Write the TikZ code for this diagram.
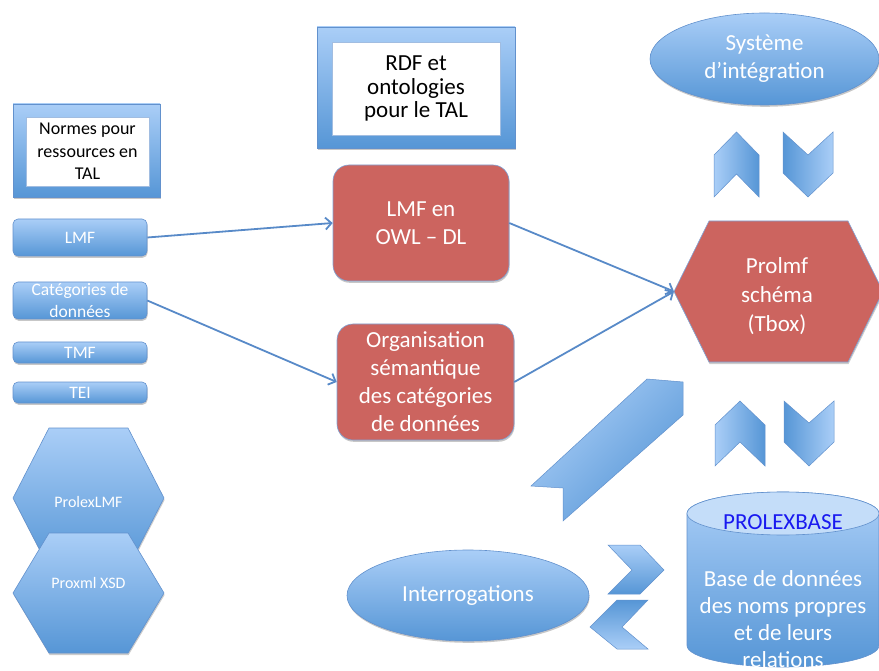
\documentclass[tikz,border=0pt]{standalone}
\usepackage{fontspec}
\setmainfont{Carlito}
\usetikzlibrary{arrows.meta,shadows,shapes.geometric}
\definecolor{bl}{RGB}{170,206,247}
\definecolor{bd}{RGB}{86,150,214}
\definecolor{bedge}{RGB}{98,145,205}
\definecolor{rd}{RGB}{204,100,95}
\definecolor{redge}{RGB}{125,163,215}
\definecolor{arr}{RGB}{88,138,200}
\definecolor{pbase}{RGB}{25,25,240}
\definecolor{ctop}{RGB}{196,221,249}
\tikzset{
  softshadow/.style={drop shadow={shadow xshift=0.6pt, shadow yshift=-1.8pt, opacity=0.22, fill=black}},
  bluebox/.style={draw=bedge, line width=0.6pt, top color=bl, bottom color=bd, rounded corners=5pt,
    text=white, align=center, inner sep=0pt, softshadow, font=\fontsize{17.5}{21.7}\selectfont},
  framebox/.style={draw=bedge, line width=0.6pt, top color=bl, bottom color=bd, inner sep=0pt, softshadow},
  innerbox/.style={draw=bedge!60, line width=0.5pt, fill=white, inner sep=0pt, align=center, text=black},
  redbox/.style={draw=redge, line width=0.6pt, fill=rd, rounded corners=16pt, text=white, align=center,
    inner sep=0pt, softshadow, font=\fontsize{23}{28}\selectfont},
  blueell/.style={ellipse, draw=bedge, line width=0.6pt, top color=bl, bottom color=bd, text=white,
    align=center, inner sep=0pt, softshadow, font=\fontsize{23}{28}\selectfont},
  bluefill/.style={draw=bedge, line width=0.6pt, top color=bl, bottom color=bd},
  chevL/.style={draw=bedge, line width=0.5pt, left color=bl, right color=bd},
  chevR/.style={draw=bedge, line width=0.5pt, left color=bd, right color=bl},
  chevT/.style={draw=bedge, line width=0.5pt, top color=bl, bottom color=bd},
  chevB/.style={draw=bedge, line width=0.5pt, top color=bd, bottom color=bl},
  wtext/.style={text=white, align=center, inner sep=0pt},
  conn/.style={draw=arr, line width=1.8pt, -{Straight Barb[length=6pt,width=12pt]}},
}
\begin{document}
\begin{tikzpicture}[x=1pt,y=-1pt]
\useasboundingbox (0,0) rectangle (879,671);

% left frame
\node[framebox, minimum width=147pt, minimum height=93pt] (normesF) at (86.5,150.5) {};
\node[innerbox, minimum width=123pt, minimum height=69pt, font=\fontsize{18}{22.7}\selectfont] (normes) at (87.5,151.5) {Normes pour\\ressources en\\TAL};

% small blue boxes
\node[bluebox, minimum width=134pt, minimum height=37pt] (lmf) at (80,237.5) {LMF};
\node[bluebox, minimum width=134pt, minimum height=37pt] (cat) at (80,300.5) {Catégories de\\données};
\node[bluebox, minimum width=134pt, minimum height=21pt] (tmf) at (80,352.5) {TMF};
\node[bluebox, minimum width=134pt, minimum height=21pt] (tei) at (80,392.5) {TEI};

% left hexagons
\fill[black, opacity=0.2] (49.6,430) -- (128.6,430) -- (164.6,500) -- (128.6,570) -- (49.6,570) -- (13.6,500) -- cycle;
\path[bluefill] (49,428) -- (128,428) -- (164,498) -- (128,568) -- (49,568) -- (13,498) -- cycle;
\node[wtext, font=\fontsize{16}{19}\selectfont] (prolexlmf) at (88.5,502) {ProlexLMF};
\fill[black, opacity=0.2] (49.6,535) -- (128.6,535) -- (164.6,595) -- (128.6,655) -- (49.6,655) -- (13.6,595) -- cycle;
\path[bluefill] (49,533) -- (128,533) -- (164,593) -- (128,653) -- (49,653) -- (13,593) -- cycle;
\node[wtext, font=\fontsize{16}{19}\selectfont] (proxml) at (88.5,583) {Proxml XSD};

% RDF frame
\node[framebox, minimum width=198pt, minimum height=121pt] (rdfF) at (416,87.5) {};
\node[innerbox, minimum width=168pt, minimum height=93pt, font=\fontsize{23}{23.5}\selectfont] (rdf) at (416,88.5) {RDF et\\ontologies\\pour le TAL};

% red boxes
\node[redbox, minimum width=176pt, minimum height=116pt] (owl) at (421,223) {LMF en\\OWL – DL};
\node[redbox, minimum width=177pt, minimum height=116pt] (org) at (425.5,382) {Organisation\\sémantique\\des catégories\\de données};

% Prolmf hexagon
\fill[black, opacity=0.2] (709.6,223) -- (848.6,223) -- (883.6,293.5) -- (848.6,364) -- (709.6,364) -- (674.6,293.5) -- cycle;
\path[draw=redge, line width=0.6pt, fill=rd] (709,221) -- (848,221) -- (883,291.5) -- (848,362) -- (709,362) -- (674,291.5) -- cycle;
\node[wtext, font=\fontsize{23}{29}\selectfont] (prolmf) at (777,296) {Prolmf\\schéma\\(Tbox)};
\coordinate (prolmfW) at (674,291.5);

% Systeme d'integration
\node[blueell, minimum width=229pt, minimum height=92pt] (sys) at (764.5,59) {Système\\d’intégration};

% chevrons upper
\path[chevL] (714,155) -- (736.5,132) -- (759,155) -- (759,197) -- (736.5,174) -- (714,197) -- cycle;
\path[chevR] (783,132) -- (808,155) -- (833,132) -- (833,173) -- (808,197) -- (783,173) -- cycle;
% chevrons lower
\path[chevL] (715,425) -- (740,401) -- (765,425) -- (765,466) -- (740,442) -- (715,466) -- cycle;
\path[chevR] (784,401) -- (809,423) -- (834,401) -- (834,442) -- (809,466) -- (784,442) -- cycle;

% diagonal ribbon
\path[draw=bedge, line width=0.5pt, top color=bl, bottom color=bd, shading angle=45]
  (647,379) -- (683,382) -- (683,415) -- (563,521) -- (563,488) -- (531,486) -- cycle;

% Interrogations
\node[blueell, minimum width=242pt, minimum height=91pt] (interr) at (468,595.5) {Interrogations};

% horizontal chevrons
\path[chevT] (608,545) -- (640,545) -- (664,570) -- (640,594) -- (608,594) -- (632,570) -- cycle;
\path[chevB] (648,600) -- (617,600) -- (590,627) -- (617,649) -- (648,649) -- (622,627) -- cycle;

% PROLEXBASE cylinder
\path[draw=bedge, line width=0.6pt, top color=bl, bottom color=bd]
  (687,513.5) -- (687,645.5) arc[start angle=180, end angle=360, x radius=96pt, y radius=21.5pt]
  -- (879,513.5) arc[start angle=0, end angle=180, x radius=96pt, y radius=21.5pt] -- cycle;
\path[draw=bedge, line width=0.6pt, fill=ctop] (783,513.5) ellipse [x radius=96pt, y radius=21.5pt];
\node[inner sep=0pt, text=pbase, font=\fontsize{23}{28}\selectfont] (pbase) at (783,522) {PROLEXBASE};
\node[wtext, font=\fontsize{23}{27}\selectfont] (base) at (783,619) {Base de données\\des noms propres\\et de leurs\\relations};

% connectors
\draw[conn] (lmf.east) -- (owl.west);
\draw[conn] (cat.east) -- (org.west);
\draw[conn] (owl.east) -- (prolmfW);
\draw[conn] (org.east) -- (prolmfW);
\end{tikzpicture}
\end{document}
